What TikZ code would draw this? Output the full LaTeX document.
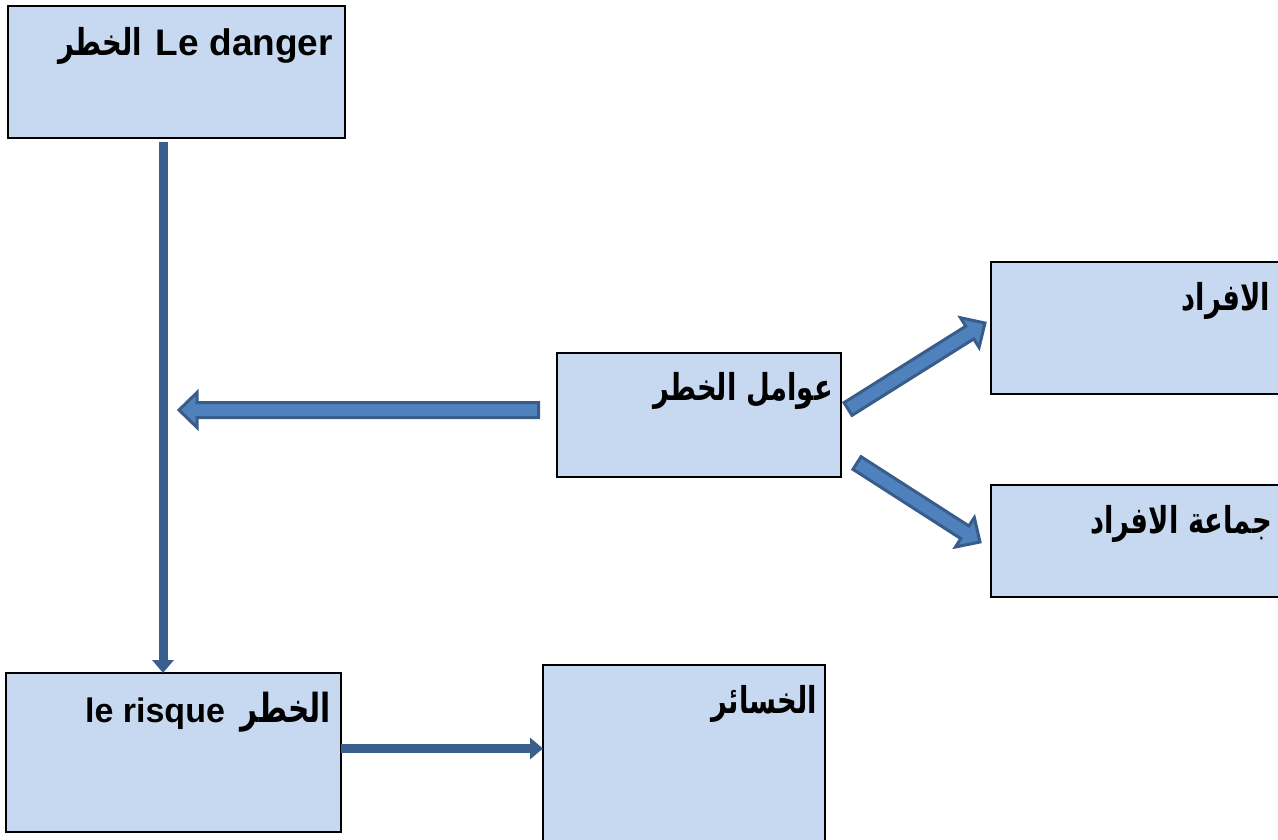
\documentclass[tikz,border=0pt]{standalone}
\usepackage{fontspec}
\setmainfont{Liberation Sans}
\newfontfamily\arabicfont[Script=Arabic,FakeStretch=0.74]{DejaVu Sans}
\TeXXeTstate=1
\usetikzlibrary{calc,arrows.meta}

\definecolor{boxfill}{RGB}{198,217,241}
\definecolor{linkblue}{RGB}{58,95,142}
\definecolor{arrowfill}{RGB}{79,129,189}
\definecolor{arrowedge}{RGB}{56,93,138}

% Arabic run, set right to left
\newcommand\artext[1]{{\arabicfont\beginR #1\endR}}

% Outlined block arrow from tail coordinate #1 to tip coordinate #2
\newcommand\blockarrow[2]{%
  \coordinate (ba-h) at ($(#2)!18pt!(#1)$);
  \draw[barrow] ($(#1)!7.5pt!90:(#2)$) -- ($(ba-h)!7.5pt!90:(#2)$)
    -- ($(ba-h)!17.5pt!90:(#2)$) -- (#2) -- ($(ba-h)!17.5pt!-90:(#2)$)
    -- ($(ba-h)!7.5pt!-90:(#2)$) -- ($(#1)!7.5pt!-90:(#2)$) -- cycle;
}

\begin{document}
\begin{tikzpicture}[x=1pt,y=-1pt,
  box/.style={draw=black, line width=2.5pt, fill=boxfill, rectangle,
    inner sep=0pt, outer sep=0pt},
  boxtext/.style={anchor=base east, inner sep=0pt,
    font=\fontsize{37}{44}\selectfont\bfseries},
  link/.style={draw=linkblue, line width=9pt,
    -{Triangle[width=21pt,length=13pt]}},
  barrow/.style={draw=arrowedge, fill=arrowfill, line width=3pt,
    line join=miter}]

\useasboundingbox (0,0) rectangle (1278,839);
\clip (0,0) rectangle (1278,839);

% boxes
\node[box, minimum width=337pt, minimum height=132pt] (A) at (176.5,72) {};
\node[box, minimum width=284pt, minimum height=124pt] (B) at (699,415) {};
\node[box, minimum width=294pt, minimum height=132pt] (C) at (1138,328) {};
\node[box, minimum width=294pt, minimum height=112pt] (D) at (1138,541) {};
\node[box, minimum width=335pt, minimum height=159pt] (E) at (173.5,752.5) {};
\node[box, minimum width=282pt, minimum height=180pt] (F) at (684,755) {};

% box captions
\node[boxtext] (tA) at ($(A.north east)+(-12,49)$)
  {\artext{الخطر}\hspace{14pt}Le danger};
\node[boxtext] (tB) at ($(B.north east)+(-8,47)$) {\artext{عوامل الخطر}};
\node[boxtext] (tC) at (1270,310) {\artext{الافراد}};
\node[boxtext] (tD) at (1272,533) {\artext{جماعة الافراد}};
\node[boxtext] (tE) at ($(E.north east)+(-10,49)$)
  {{\fontsize{34}{40}\selectfont le risque}\hspace{16pt}{\fontsize{40}{46}\selectfont\artext{الخطر}}};
\node[boxtext] (tF) at ($(F.north east)+(-8,48)$) {\artext{الخسائر}};

% plain connectors
\coordinate (dtop) at (163,142);
\coordinate (rl) at (0,748.5);
\draw[link] (dtop) -- (dtop |- E.north);
\draw[link] (E.east |- rl) -- (F.west |- rl);

% block arrows
\coordinate (fL0) at (538.5,410);
\coordinate (fL1) at (179,410);
\coordinate (fU0) at (848,409);
\coordinate (fU1) at (985,323);
\coordinate (fD0) at (857,463);
\coordinate (fD1) at (980,542);
\blockarrow{fL0}{fL1}
\blockarrow{fU0}{fU1}
\blockarrow{fD0}{fD1}

\end{tikzpicture}
\end{document}
